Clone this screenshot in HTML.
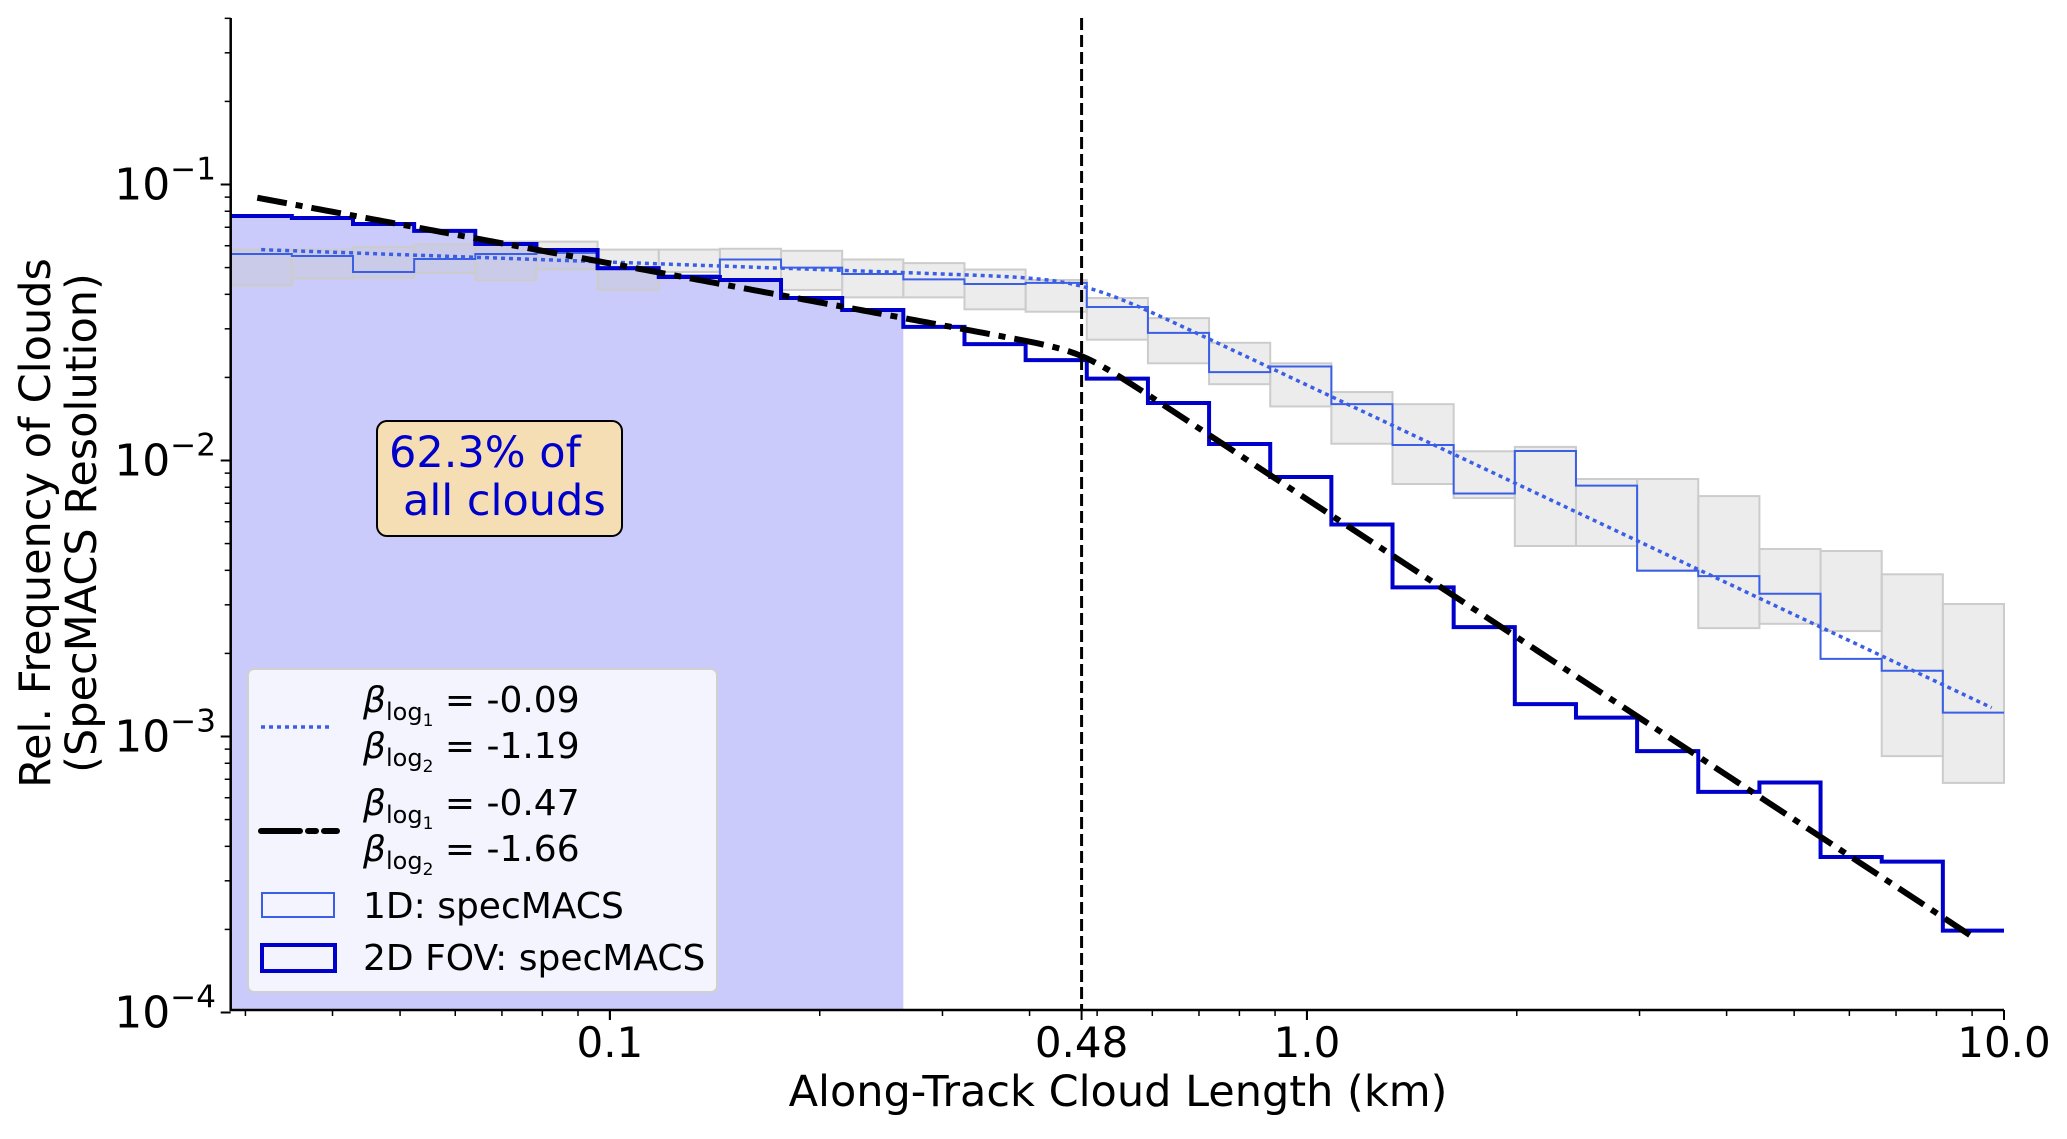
<!DOCTYPE html>
<html><head><meta charset="utf-8"><style>
html,body{margin:0;padding:0;background:#fff;}
svg text{font-family:"DejaVu Sans","Liberation Sans",sans-serif;}
</style></head><body>
<svg id="chart" width="2067" height="1134" viewBox="0 0 2067 1134" xmlns="http://www.w3.org/2000/svg"></svg>
<script>
const nBins = 29;
const xMinLog = -1.544;
const xMaxLog = 1.0;
const fov2D = [0.0769,0.0756,0.0719,0.0679,0.0609,0.0579,0.0498,0.0462,0.0451,0.0388,0.0351,0.0305,0.0264,0.0231,0.0198,0.01615,0.01147,0.00871,0.00586,0.00347,0.00249,0.00131,0.00117,0.000885,0.000630,0.000681,0.000366,0.000352,0.000198];
const spec1D = [0.0560,0.0551,0.0482,0.0537,0.0560,0.0565,0.0493,0.0468,0.0535,0.0500,0.0474,0.0453,0.0436,0.0440,0.0360,0.0290,0.0209,0.0219,0.0160,0.01138,0.00759,0.01082,0.00811,0.00399,0.00381,0.00329,0.00191,0.00173,0.00122];
const grayHigh = [0.0581,0.0581,0.0594,0.0608,0.0621,0.0621,0.0581,0.0581,0.0585,0.0575,0.0535,0.0519,0.0492,0.0451,0.0388,0.0328,0.0267,0.0225,0.0177,0.0160,0.0108,0.0112,0.00857,0.00857,0.00743,0.00478,0.00470,0.00387,0.00302];
const grayLow = [0.0430,0.0456,0.0459,0.0478,0.0450,0.0492,0.0415,0.0482,0.0444,0.0415,0.0390,0.0390,0.0353,0.0346,0.0274,0.0225,0.0189,0.0157,0.0115,0.00822,0.00731,0.00490,0.00490,0.00398,0.00247,0.00256,0.00241,0.000849,0.000679];
const shadedBins = 11;
const breakX = 0.475;
const fitBlue = {b1:-0.09, b2:-1.19, yb:0.0455, s:0.08, x0:0.0316, x1:9.6};
const fitBlack = {b1:-0.47, b2:-1.66, yb:0.0249, s:0.05, x0:0.0312, x1:9.0};
const xTicks = [0.1, 0.475, 1.0, 10.0];
const xTickLabels = ["0.1","0.48","1.0","10.0"];
const yTickExp = [-1,-2,-3,-4];

const NS="http://www.w3.org/2000/svg";
const svg=document.getElementById('chart');
const L=230.7,R=2004,T=18,B=1010;
const xLog=l=>L+(l-xMinLog)/(xMaxLog-xMinLog)*(R-L);
const X=v=>xLog(Math.log10(v));
const Y=v=>184.5-(Math.log10(v)+1)*276;
function el(tag,attrs,parent){const e=document.createElementNS(NS,tag);for(const k in attrs)e.setAttribute(k,attrs[k]);(parent||svg).appendChild(e);return e;}
const edge=i=>xLog(xMinLog+i*(xMaxLog-xMinLog)/nBins);

let d=`M${edge(0)},${B}`;
for(let i=0;i<shadedBins;i++){d+=` L${edge(i)},${Y(fov2D[i])} L${edge(i+1)},${Y(fov2D[i])}`;}
d+=` L${edge(shadedBins)},${B} Z`;
const sh=el('path',{d:d,fill:'#cbcbfb',stroke:'none'});



for(let i=0;i<nBins;i++){
  const r=el('rect',{x:edge(i),y:Y(grayHigh[i]),width:edge(i+1)-edge(i),height:Y(grayLow[i])-Y(grayHigh[i]),fill:'rgba(200,200,200,0.35)',stroke:'#cccccc','stroke-width':2});
  
  
}
function stepPath(arr){let p='';for(let i=0;i<arr.length;i++){p+=(i?' L':'M')+`${edge(i)},${Y(arr[i])} L${edge(i+1)},${Y(arr[i])}`;}return p;}
const h1=el('path',{d:stepPath(spec1D),fill:'none',stroke:'#3a5fe6','stroke-width':2});


const h2=el('path',{d:stepPath(fov2D),fill:'none',stroke:'#0000cc','stroke-width':4});



function fitPath(f){
  const ub=Math.log10(breakX);let p='';
  const a=Math.log10(f.x0),b=Math.log10(f.x1);
  for(let k=0;k<=300;k++){
    const lx=a+(b-a)*k/300,u=lx-ub;
    const sp=f.s*Math.log10(1+Math.pow(10,u/f.s));
    const ly=Math.log10(f.yb)+f.b1*u+(f.b2-f.b1)*sp;
    p+=(k?' L':'M')+`${xLog(lx)},${184.5-(ly+1)*276}`;
  }return p;}
const fb=el('path',{d:fitPath(fitBlue),fill:'none',stroke:'#3a5fe6','stroke-width':3.5,'stroke-dasharray':'4,4'});


const fk=el('path',{d:fitPath(fitBlack),fill:'none',stroke:'#000','stroke-width':6,'stroke-dasharray':'30,9,7,9'});



const vl=el('line',{x1:X(breakX),x2:X(breakX),y1:T,y2:B,stroke:'#000','stroke-width':3,'stroke-dasharray':'12,5'});



const ax=el('path',{d:`M${L},${T} L${L},${B} L${R},${B}`,fill:'none',stroke:'#000','stroke-width':2.5});


for(let e=-2;e<=1;e++){for(let m=1;m<10;m++){const v=m*Math.pow(10,e);const x=X(v);if(x<L-0.5||x>R+0.5)continue;
  const t=el('line',{x1:x,x2:x,y1:B,y2:B+(m===1?10:6),stroke:'#000','stroke-width':m===1?2:1.5});
  
  }}
xTicks.forEach((v,i)=>{
  const t=el('line',{x1:X(v),x2:X(v),y1:B,y2:B+10,stroke:'#000','stroke-width':2});
  
  
  const tx=el('text',{x:X(v),y:1057,'font-size':42,'text-anchor':'middle',fill:'#000'});tx.textContent=xTickLabels[i];
  
  
});
for(let e=-4;e<=-1;e++){for(let m=1;m<10;m++){const v=m*Math.pow(10,e);const y=Y(v);if(y<T)continue;
  const t=el('line',{x1:L,x2:L-(m===1?10:6),y1:y,y2:y,stroke:'#000','stroke-width':m===1?2:1.5});
  
  }}
yTickExp.forEach(e=>{
  const tx=el('text',{x:216,y:Y(Math.pow(10,e))+15,'font-size':44,'text-anchor':'end',fill:'#000'});
  tx.innerHTML=`10<tspan dy="-20" font-size="31">−${-e}</tspan>`;
  
  
});
</script>
<svg style="position:absolute;left:0;top:0" width="2067" height="1134" xmlns="http://www.w3.org/2000/svg">
<text x="1118" y="1106" font-size="43" text-anchor="middle" font-family="DejaVu Sans">Along-Track Cloud Length (km)</text>
<g transform="translate(50,523) rotate(-90)" font-family="DejaVu Sans" font-size="43" text-anchor="middle">
<text x="0" y="0">Rel. Frequency of Clouds</text><text x="0" y="46">(SpecMACS Resolution)</text></g>
<g>
<rect x="377" y="421" width="245" height="115" rx="10" fill="#f5deb3" stroke="#000" stroke-width="2"/>
<text x="389" y="467" font-size="43" fill="#0000cc" font-family="DejaVu Sans">62.3% of</text>
<text x="403" y="515" font-size="43" fill="#0000cc" font-family="DejaVu Sans">all clouds</text></g>
<g font-family="DejaVu Sans" font-size="36">
<rect x="248" y="669" width="469" height="323" rx="6" fill="#f4f4fe" stroke="#d0d0d0" stroke-width="2"/>
<line x1="261" y1="727" x2="332" y2="727" stroke="#3a5fe6" stroke-width="3.5" stroke-dasharray="4,4"/>
<text x="363" y="712"><tspan font-style="italic">β</tspan><tspan font-size="24" dy="8">log</tspan><tspan font-size="17" dy="6">1</tspan><tspan dy="-14"> = -0.09</tspan></text>
<text x="363" y="758"><tspan font-style="italic">β</tspan><tspan font-size="24" dy="8">log</tspan><tspan font-size="17" dy="6">2</tspan><tspan dy="-14"> = -1.19</tspan></text>
<path d="M261,831 L300,831 M308,831 L316,831 M324,831 L337,831" stroke="#000" stroke-width="6" stroke-linecap="round"/>
<text x="363" y="815"><tspan font-style="italic">β</tspan><tspan font-size="24" dy="8">log</tspan><tspan font-size="17" dy="6">1</tspan><tspan dy="-14"> = -0.47</tspan></text>
<text x="363" y="861"><tspan font-style="italic">β</tspan><tspan font-size="24" dy="8">log</tspan><tspan font-size="17" dy="6">2</tspan><tspan dy="-14"> = -1.66</tspan></text>
<rect x="262" y="893" width="72" height="24" fill="none" stroke="#3a5fe6" stroke-width="2"/>
<text x="363" y="918">1D: specMACS</text>
<rect x="262" y="945" width="73" height="26" fill="none" stroke="#0000cc" stroke-width="4"/>
<text x="363" y="970">2D FOV: specMACS</text>
</g>
</svg>
</body></html>
